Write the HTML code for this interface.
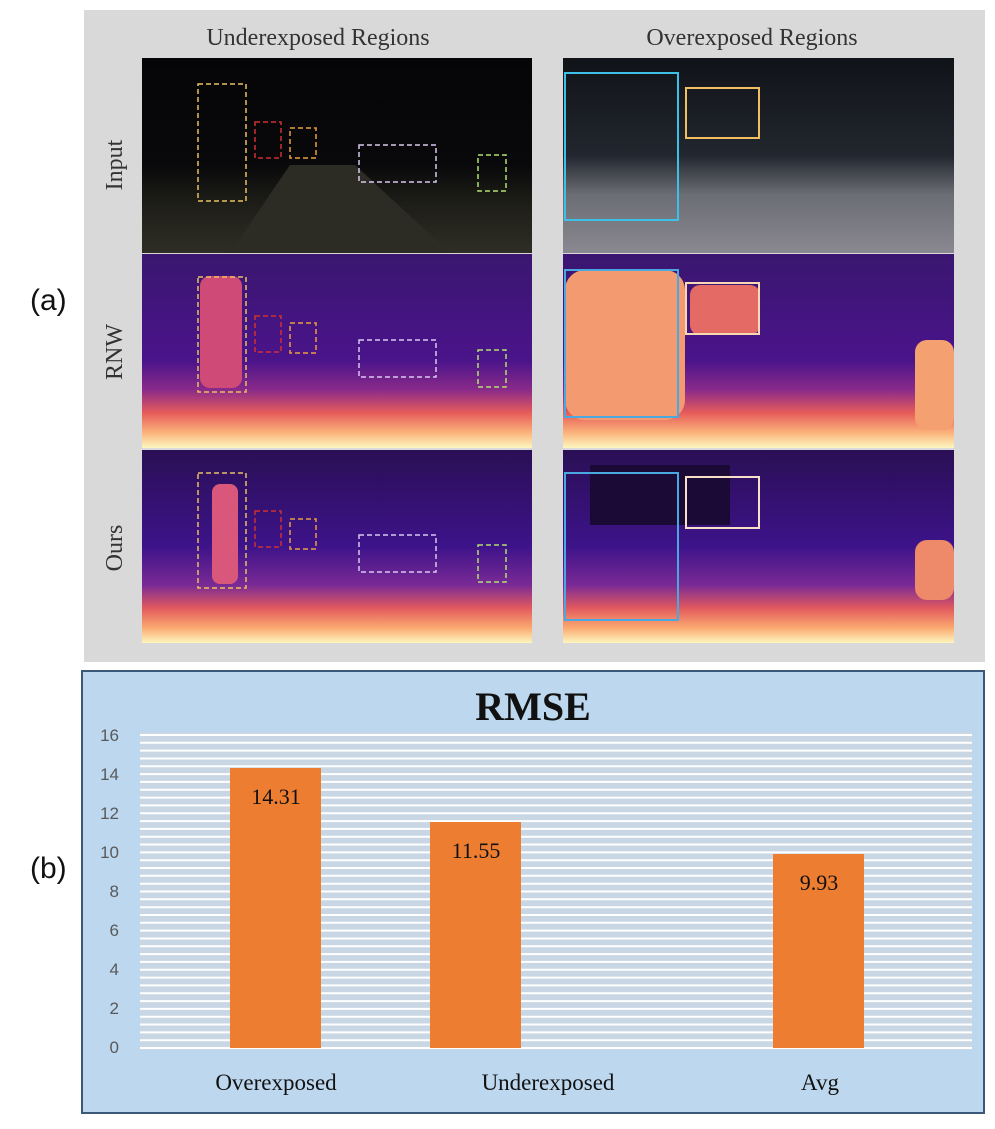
<!DOCTYPE html>
<html><head><meta charset="utf-8"><style>
body{margin:0;background:#fff;width:995px;height:1124px;overflow:hidden;font-family:"Liberation Serif",serif}
</style></head><body>
<svg width="995" height="1124" xmlns="http://www.w3.org/2000/svg">
<defs>
<linearGradient id="mag" x1="0" y1="0" x2="0" y2="1">
<stop offset="0" stop-color="#3a1670"/><stop offset="0.55" stop-color="#4a148a"/>
<stop offset="0.7" stop-color="#8a2a8a"/><stop offset="0.82" stop-color="#e65c5a"/>
<stop offset="0.92" stop-color="#fbb27a"/><stop offset="1" stop-color="#fcf7c0"/></linearGradient>
<linearGradient id="mag2" x1="0" y1="0" x2="0" y2="1">
<stop offset="0" stop-color="#2a0f55"/><stop offset="0.5" stop-color="#3d138a"/>
<stop offset="0.7" stop-color="#7a2a95"/><stop offset="0.82" stop-color="#e25a5e"/>
<stop offset="0.92" stop-color="#fba870"/><stop offset="1" stop-color="#fcf5bf"/></linearGradient>
<linearGradient id="night" x1="0" y1="0" x2="0" y2="1">
<stop offset="0" stop-color="#050508"/><stop offset="0.55" stop-color="#09090b"/>
<stop offset="0.75" stop-color="#1e1e18"/><stop offset="1" stop-color="#2e2e26"/></linearGradient>
<linearGradient id="city" x1="0" y1="0" x2="0" y2="1">
<stop offset="0" stop-color="#101318"/><stop offset="0.5" stop-color="#22262e"/>
<stop offset="0.7" stop-color="#6b6d74"/><stop offset="1" stop-color="#8a8890"/></linearGradient>
</defs>
<rect x="84" y="10" width="901" height="652" fill="#d9d9d9"/>
<text x="318" y="45" font-size="24" text-anchor="middle" fill="#333">Underexposed Regions</text>
<text x="752" y="45" font-size="24" text-anchor="middle" fill="#333">Overexposed Regions</text>
<g font-size="24" fill="#333">
<text transform="translate(122,165) rotate(-90)" text-anchor="middle">Input</text>
<text transform="translate(122,352) rotate(-90)" text-anchor="middle">RNW</text>
<text transform="translate(122,548) rotate(-90)" text-anchor="middle">Ours</text>
</g>
<text x="30" y="310" font-family="Liberation Sans,sans-serif" font-size="30" fill="#111">(a)</text>
<text x="30" y="878" font-family="Liberation Sans,sans-serif" font-size="30" fill="#111">(b)</text>
<rect x="142" y="58" width="390" height="195" fill="url(#night)"/>
<path d="M290 165 L230 253 L450 253 L355 165Z" fill="#2c2c24"/>
<rect x="142" y="254" width="390" height="194" fill="url(#mag)"/>
<rect x="200" y="276" width="42" height="112" rx="10" fill="#d04a78"/>
<rect x="142" y="450" width="390" height="193" fill="url(#mag2)"/>
<rect x="212" y="484" width="26" height="100" rx="8" fill="#d9577a"/>
<g fill="none" stroke-dasharray="5,3" stroke-width="1.5">
<rect x="198" y="84" width="48" height="117" stroke="#e8c060"/>
<rect x="255" y="122" width="26" height="36" stroke="#d03030"/>
<rect x="290" y="128" width="26" height="30" stroke="#e8a040"/>
<rect x="359" y="145" width="77" height="37" stroke="#d8c8f0"/>
<rect x="478" y="155" width="28" height="36" stroke="#b0e070"/>
<rect x="198" y="277" width="48" height="115" stroke="#e8c060"/>
<rect x="255" y="316" width="26" height="36" stroke="#d03030"/>
<rect x="290" y="323" width="26" height="30" stroke="#e8a040"/>
<rect x="359" y="340" width="77" height="37" stroke="#d8c8f0"/>
<rect x="478" y="350" width="28" height="37" stroke="#b0e070"/>
<rect x="198" y="473" width="48" height="115" stroke="#e8c060"/>
<rect x="255" y="511" width="26" height="36" stroke="#d03030"/>
<rect x="290" y="519" width="26" height="30" stroke="#e8a040"/>
<rect x="359" y="535" width="77" height="37" stroke="#d8c8f0"/>
<rect x="478" y="545" width="28" height="37" stroke="#b0e070"/>
</g>
<rect x="563" y="58" width="391" height="195" fill="url(#city)"/>
<rect x="563" y="254" width="391" height="194" fill="url(#mag)"/>
<rect x="565" y="270" width="120" height="150" rx="20" fill="#f39a70"/>
<rect x="690" y="285" width="70" height="50" rx="10" fill="#e46a66"/>
<rect x="915" y="340" width="39" height="90" rx="12" fill="#f4a070"/>
<rect x="563" y="450" width="391" height="193" fill="url(#mag2)"/>
<rect x="590" y="465" width="140" height="60" fill="#1a0a35"/>
<rect x="915" y="540" width="39" height="60" rx="12" fill="#ee8a6a"/>
<g fill="none" stroke-width="2">
<rect x="565" y="73" width="113" height="147" stroke="#3cc0e8"/>
<rect x="686" y="88" width="73" height="50" stroke="#f0c060"/>
<rect x="565" y="270" width="113" height="147" stroke="#4aa8e0"/>
<rect x="686" y="283" width="73" height="51" stroke="#f8d8b0"/>
<rect x="565" y="473" width="113" height="147" stroke="#4aa8e0"/>
<rect x="686" y="477" width="73" height="51" stroke="#f8e0c8"/>
</g>
<rect x="82" y="671" width="902" height="442" fill="#bdd7ee" stroke="#3a5878" stroke-width="2"/>
<text x="533" y="720" font-size="40" font-weight="bold" text-anchor="middle" fill="#111">RMSE</text>
<rect x="140" y="732" width="832" height="318" fill="#c9d6e4"/>
<path stroke="#ffffff" stroke-width="2" d="M140 1048H972M140 1040.2H972M140 1032.4H972M140 1024.5H972M140 1016.7H972M140 1008.9H972M140 1001.1H972M140 993.2H972M140 985.4H972M140 977.6H972M140 969.8H972M140 961.9H972M140 954.1H972M140 946.3H972M140 938.5H972M140 930.6H972M140 922.8H972M140 915H972M140 907.2H972M140 899.3H972M140 891.5H972M140 883.7H972M140 875.8H972M140 868H972M140 860.2H972M140 852.4H972M140 844.5H972M140 836.7H972M140 828.9H972M140 821.1H972M140 813.2H972M140 805.4H972M140 797.6H972M140 789.8H972M140 781.9H972M140 774.1H972M140 766.3H972M140 758.5H972M140 750.6H972M140 742.8H972M140 735H972"/>
<g font-family="Liberation Sans,sans-serif" font-size="17" fill="#595959" text-anchor="end">
<text x="119" y="741">16</text><text x="119" y="780">14</text><text x="119" y="819">12</text>
<text x="119" y="858">10</text><text x="119" y="897">8</text><text x="119" y="936">6</text>
<text x="119" y="975">4</text><text x="119" y="1014">2</text><text x="119" y="1053">0</text>
</g>
<g fill="#ed7d31">
<rect x="230" y="768" width="91" height="280"/>
<rect x="430" y="822" width="91" height="226"/>
<rect x="773" y="854" width="91" height="194"/>
</g>
<g font-size="22" text-anchor="middle" fill="#111">
<text x="276" y="804">14.31</text><text x="476" y="858">11.55</text><text x="819" y="890">9.93</text>
</g>
<g font-size="23" text-anchor="middle" fill="#111">
<text x="276" y="1090">Overexposed</text><text x="548" y="1090">Underexposed</text><text x="820" y="1090">Avg</text>
</g>
</svg>
</body></html>
